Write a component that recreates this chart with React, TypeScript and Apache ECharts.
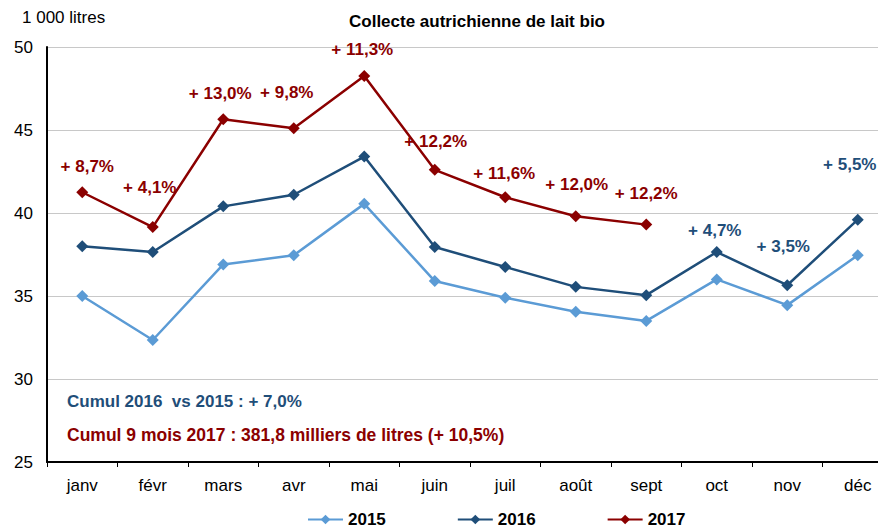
import React, { useEffect, useRef } from "react";
import * as echarts from "echarts";

const months = ["janv", "févr", "mars", "avr", "mai", "juin", "juil", "août", "sept", "oct", "nov", "déc"];
const s2015 = [35.0, 32.35, 36.9, 37.45, 40.55, 35.9, 34.9, 34.05, 33.5, 36.0, 34.45, 37.45];
const s2016 = [38.0, 37.65, 40.4, 41.1, 43.4, 37.95, 36.75, 35.55, 35.05, 37.65, 35.65, 39.6];
const s2017 = [41.25, 39.15, 45.65, 45.1, 48.25, 42.6, 40.95, 39.8, 39.3];
const labels2017 = ["+ 8,7%", "+ 4,1%", "+ 13,0%", "+ 9,8%", "+ 11,3%", "+ 12,2%", "+ 11,6%", "+ 12,0%", "+ 12,2%"];
const labels2016: (string | null)[] = [null, null, null, null, null, null, null, null, null, "+ 4,7%", "+ 3,5%", "+ 5,5%"];
const yTicks = { min: 25, max: 50, interval: 5 };
const cumul2016 = "Cumul 2016  vs 2015 : + 7,0%";
const cumul2017 = "Cumul 9 mois 2017 : 381,8 milliers de litres (+ 10,5%)";

// layout offsets for the percentage labels (x, y in px)
const off2017 = [[5, -6], [-3, -20], [-3, -6], [-7, -16], [-2, -7], [1, -9], [-1, -4], [1, -12], [0, -12]];
const off2016 = [[0, 0], [0, 0], [0, 0], [0, 0], [0, 0], [0, 0], [0, 0], [0, 0], [0, 0], [-2, -2], [-4, -19], [-8, -36]];

const C15 = "#5B9BD5";
const C16 = "#1F4E79";
const C17 = "#8B0000";

export default function App() {
  const ref = useRef<HTMLDivElement>(null);
  useEffect(() => {
    document.body.style.margin = "0";
    const chart = echarts.init(ref.current!, null, { renderer: "svg" });
    const font = "'Liberation Sans', Arial, sans-serif";
    chart.setOption({
      animation: false,
      textStyle: { fontFamily: font },
      title: {
        text: "Collecte autrichienne de lait bio",
        left: 472,
        textAlign: "center",
        top: 8,
        textStyle: { fontSize: 17, fontWeight: "bold", color: "#000", fontFamily: font },
      },
      legend: {
        bottom: -3,
        left: 302,
        itemGap: 71,
        itemWidth: 35,
        itemHeight: 12,
        textStyle: { fontSize: 17, fontWeight: "bold", color: "#000", fontFamily: font },
        data: ["2015", "2016", "2017"],
      },
      grid: { left: 47, top: 47, right: -15, bottom: 68, outerBoundsMode: "none", containLabel: false },
      xAxis: {
        type: "category",
        data: months,
        boundaryGap: true,
        axisLine: { lineStyle: { color: "#000", width: 2 } },
        axisTick: { show: true, length: 5, lineStyle: { color: "#000" } },
        axisLabel: { fontSize: 17, color: "#000", margin: 15, fontFamily: font },
      },
      yAxis: {
        type: "value",
        min: yTicks.min,
        max: yTicks.max,
        interval: yTicks.interval,
        axisLine: { show: true, lineStyle: { color: "#000", width: 2 } },
        axisTick: { show: false },
        axisLabel: { fontSize: 17, color: "#000", margin: 14 },
        splitLine: { lineStyle: { color: "#c8c8c8", width: 1 } },
      },
      graphic: [
        { type: "text", left: 22, top: 9, style: { text: "1 000 litres", fontSize: 17, fill: "#000", fontFamily: font } },
        { type: "text", left: 67, top: 393, style: { text: cumul2016, fontSize: 17, fontWeight: "bold", fill: C16, fontFamily: font } },
        { type: "text", left: 67, top: 426, style: { text: cumul2017, fontSize: 17.5, fontWeight: "bold", fill: C17, fontFamily: font } },
      ],
      series: [
        {
          name: "2015",
          type: "line",
          data: s2015,
          color: C15,
          symbol: "diamond",
          symbolSize: 12,
          lineStyle: { width: 2.5 },
        },
        {
          name: "2016",
          type: "line",
          color: C16,
          symbol: "diamond",
          symbolSize: 12,
          lineStyle: { width: 2.5 },
          data: s2016.map((v, i) => ({
            value: v,
            label: {
              show: labels2016[i] != null,
              formatter: labels2016[i] ?? "",
              position: "top",
              offset: off2016[i],
              fontSize: 17,
              fontWeight: "bold",
              color: C16,
            },
          })),
        },
        {
          name: "2017",
          type: "line",
          color: C17,
          symbol: "diamond",
          symbolSize: 12,
          lineStyle: { width: 2.5 },
          data: s2017.map((v, i) => ({
            value: v,
            label: {
              show: true,
              formatter: labels2017[i],
              position: "top",
              offset: off2017[i],
              fontSize: 17,
              fontWeight: "bold",
              color: C17,
            },
          })),
        },
      ],
    });
    return () => chart.dispose();
  }, []);
  return <div ref={ref} style={{ width: 878, height: 530 }} />;
}
